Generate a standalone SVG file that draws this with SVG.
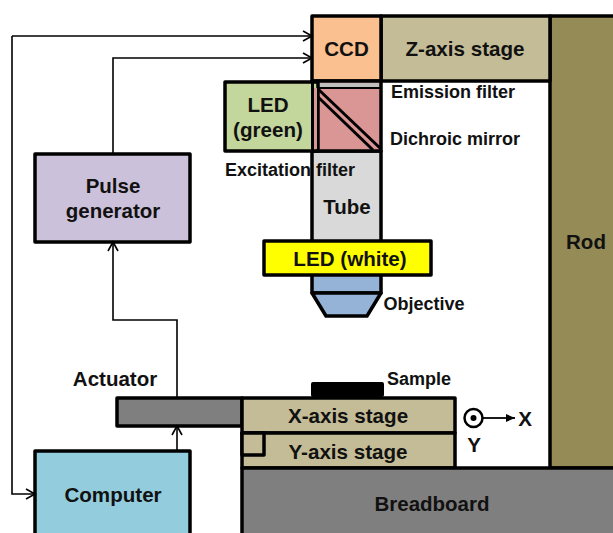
<svg xmlns="http://www.w3.org/2000/svg" width="613" height="533" viewBox="0 0 613 533">
<style>
text{font-family:"Liberation Sans",Arial,sans-serif;font-weight:bold;fill:#111;text-anchor:middle}
.b{stroke:#000;stroke-width:3.5;stroke-linejoin:round}
.l{font-size:20.600px}
.m{font-size:20.500px}
.s{font-size:18px}
.c{fill:none;stroke:#000;stroke-width:1.6}
</style>
<defs>
<marker id="open" markerUnits="userSpaceOnUse" markerWidth="12" markerHeight="12" refX="10" refY="6" orient="auto"><path d="M1 1L10 6L1 11" fill="none" stroke="#000" stroke-width="1.6"/></marker>
<marker id="solid" markerUnits="userSpaceOnUse" markerWidth="10" markerHeight="10" refX="9" refY="5" orient="auto"><path d="M0 1L9 5L0 9Z" fill="#000"/></marker>
</defs>
<g id="rod"><rect class="b" x="550" y="16" width="70" height="452" fill="#958b57"/><text class="m" x="586" y="249">Rod</text></g>
<g id="z-stage"><rect class="b" x="381" y="16" width="169" height="65" fill="#c4bc96"/><text class="l" x="465" y="56">Z-axis stage</text></g>
<g id="ccd"><rect class="b" x="312" y="16" width="69" height="65" fill="#fac090"/><text class="l" x="346.500" y="56">CCD</text></g>
<g id="tube"><rect class="b" x="312" y="151" width="69" height="91" fill="#d9d9d9"/><text class="m" x="347" y="214">Tube</text></g>
<g id="dichroic">
<rect class="b" x="312" y="81" width="69" height="70" fill="#d99694"/>
<rect x="314" y="83" width="65" height="4" fill="#bfbfbf"/>
<line x1="312" y1="88" x2="381" y2="88" stroke="#000" stroke-width="2"/>
<path d="M318 89L381 149" stroke="#000" stroke-width="3" fill="none"/>
<path d="M318 97L373 150" stroke="#000" stroke-width="3" fill="none"/>
</g>
<g id="led-green"><rect class="b" x="225" y="82" width="93" height="69" fill="#c3d69b"/><rect x="314" y="88" width="3" height="61" fill="#d99694"/><line x1="312.500" y1="82" x2="312.500" y2="151" stroke="#000" stroke-width="3"/><text class="l" x="268" y="112">LED</text><text class="l" x="268" y="137">(green)</text></g>
<g id="objective">
<rect class="b" x="312" y="274" width="69" height="19" fill="#95b3d7"/>
<path class="b" d="M312 293H381L367 316H326Z" fill="#95b3d7"/>
<text class="s" x="424" y="310">Objective</text>
</g>
<g id="led-white"><rect class="b" x="264" y="241" width="167" height="34" fill="#ff0"/><text class="l" x="350" y="266">LED (white)</text></g>
<g id="pulse-generator"><rect class="b" x="35" y="154" width="155" height="88" fill="#ccc1da"/><text class="m" x="113" y="193">Pulse</text><text class="m" x="113" y="218">generator</text></g>
<g id="computer"><rect class="b" x="35" y="451" width="155" height="95" fill="#93cddd"/><text class="l" x="113" y="502">Computer</text></g>
<g id="actuator"><rect class="b" x="117" y="398" width="125" height="28" fill="#7f7f7f"/><text class="m" x="115" y="386">Actuator</text></g>
<g id="sample"><rect x="311" y="382" width="73" height="15" rx="2" fill="#000"/><text class="s" x="419" y="385">Sample</text></g>
<g id="x-stage"><rect class="b" x="242" y="398" width="213" height="35" fill="#c4bc96"/><text class="l" x="348" y="423">X-axis stage</text></g>
<g id="y-stage"><rect class="b" x="242" y="433" width="213" height="35" fill="#c4bc96"/><rect class="b" x="242" y="433" width="22" height="22" fill="#c4bc96"/><text class="l" x="348" y="459">Y-axis stage</text></g>
<g id="breadboard"><rect class="b" x="242" y="468" width="380" height="80" fill="#7f7f7f"/><text class="m" x="432" y="511">Breadboard</text></g>
<g id="axes">
<circle cx="473.500" cy="418" r="9" fill="#fff" stroke="#000" stroke-width="2.500"/>
<circle cx="473.500" cy="418" r="3" fill="#000"/>
<line x1="483" y1="418" x2="515" y2="418" stroke="#000" stroke-width="1.800" marker-end="url(#solid)"/>
<text class="l" x="525" y="426">X</text>
<text class="l" x="474" y="452">Y</text>
</g>
<g id="labels">
<text class="s" x="453" y="98">Emission filter</text>
<text class="s" x="455" y="145">Dichroic mirror</text>
<text class="s" x="290" y="176">Excitation filter</text>
</g>
<g id="connectors">
<path class="c" d="M12 36V494H35" marker-end="url(#open)"/>
<path class="c" d="M12 36H312" marker-end="url(#open)"/>
<path class="c" d="M113 154V58H312" marker-end="url(#open)"/>
<path class="c" d="M177 397V320H113V242" marker-end="url(#open)"/>
<path class="c" d="M177 450V426" marker-end="url(#open)"/>
</g>
</svg>
